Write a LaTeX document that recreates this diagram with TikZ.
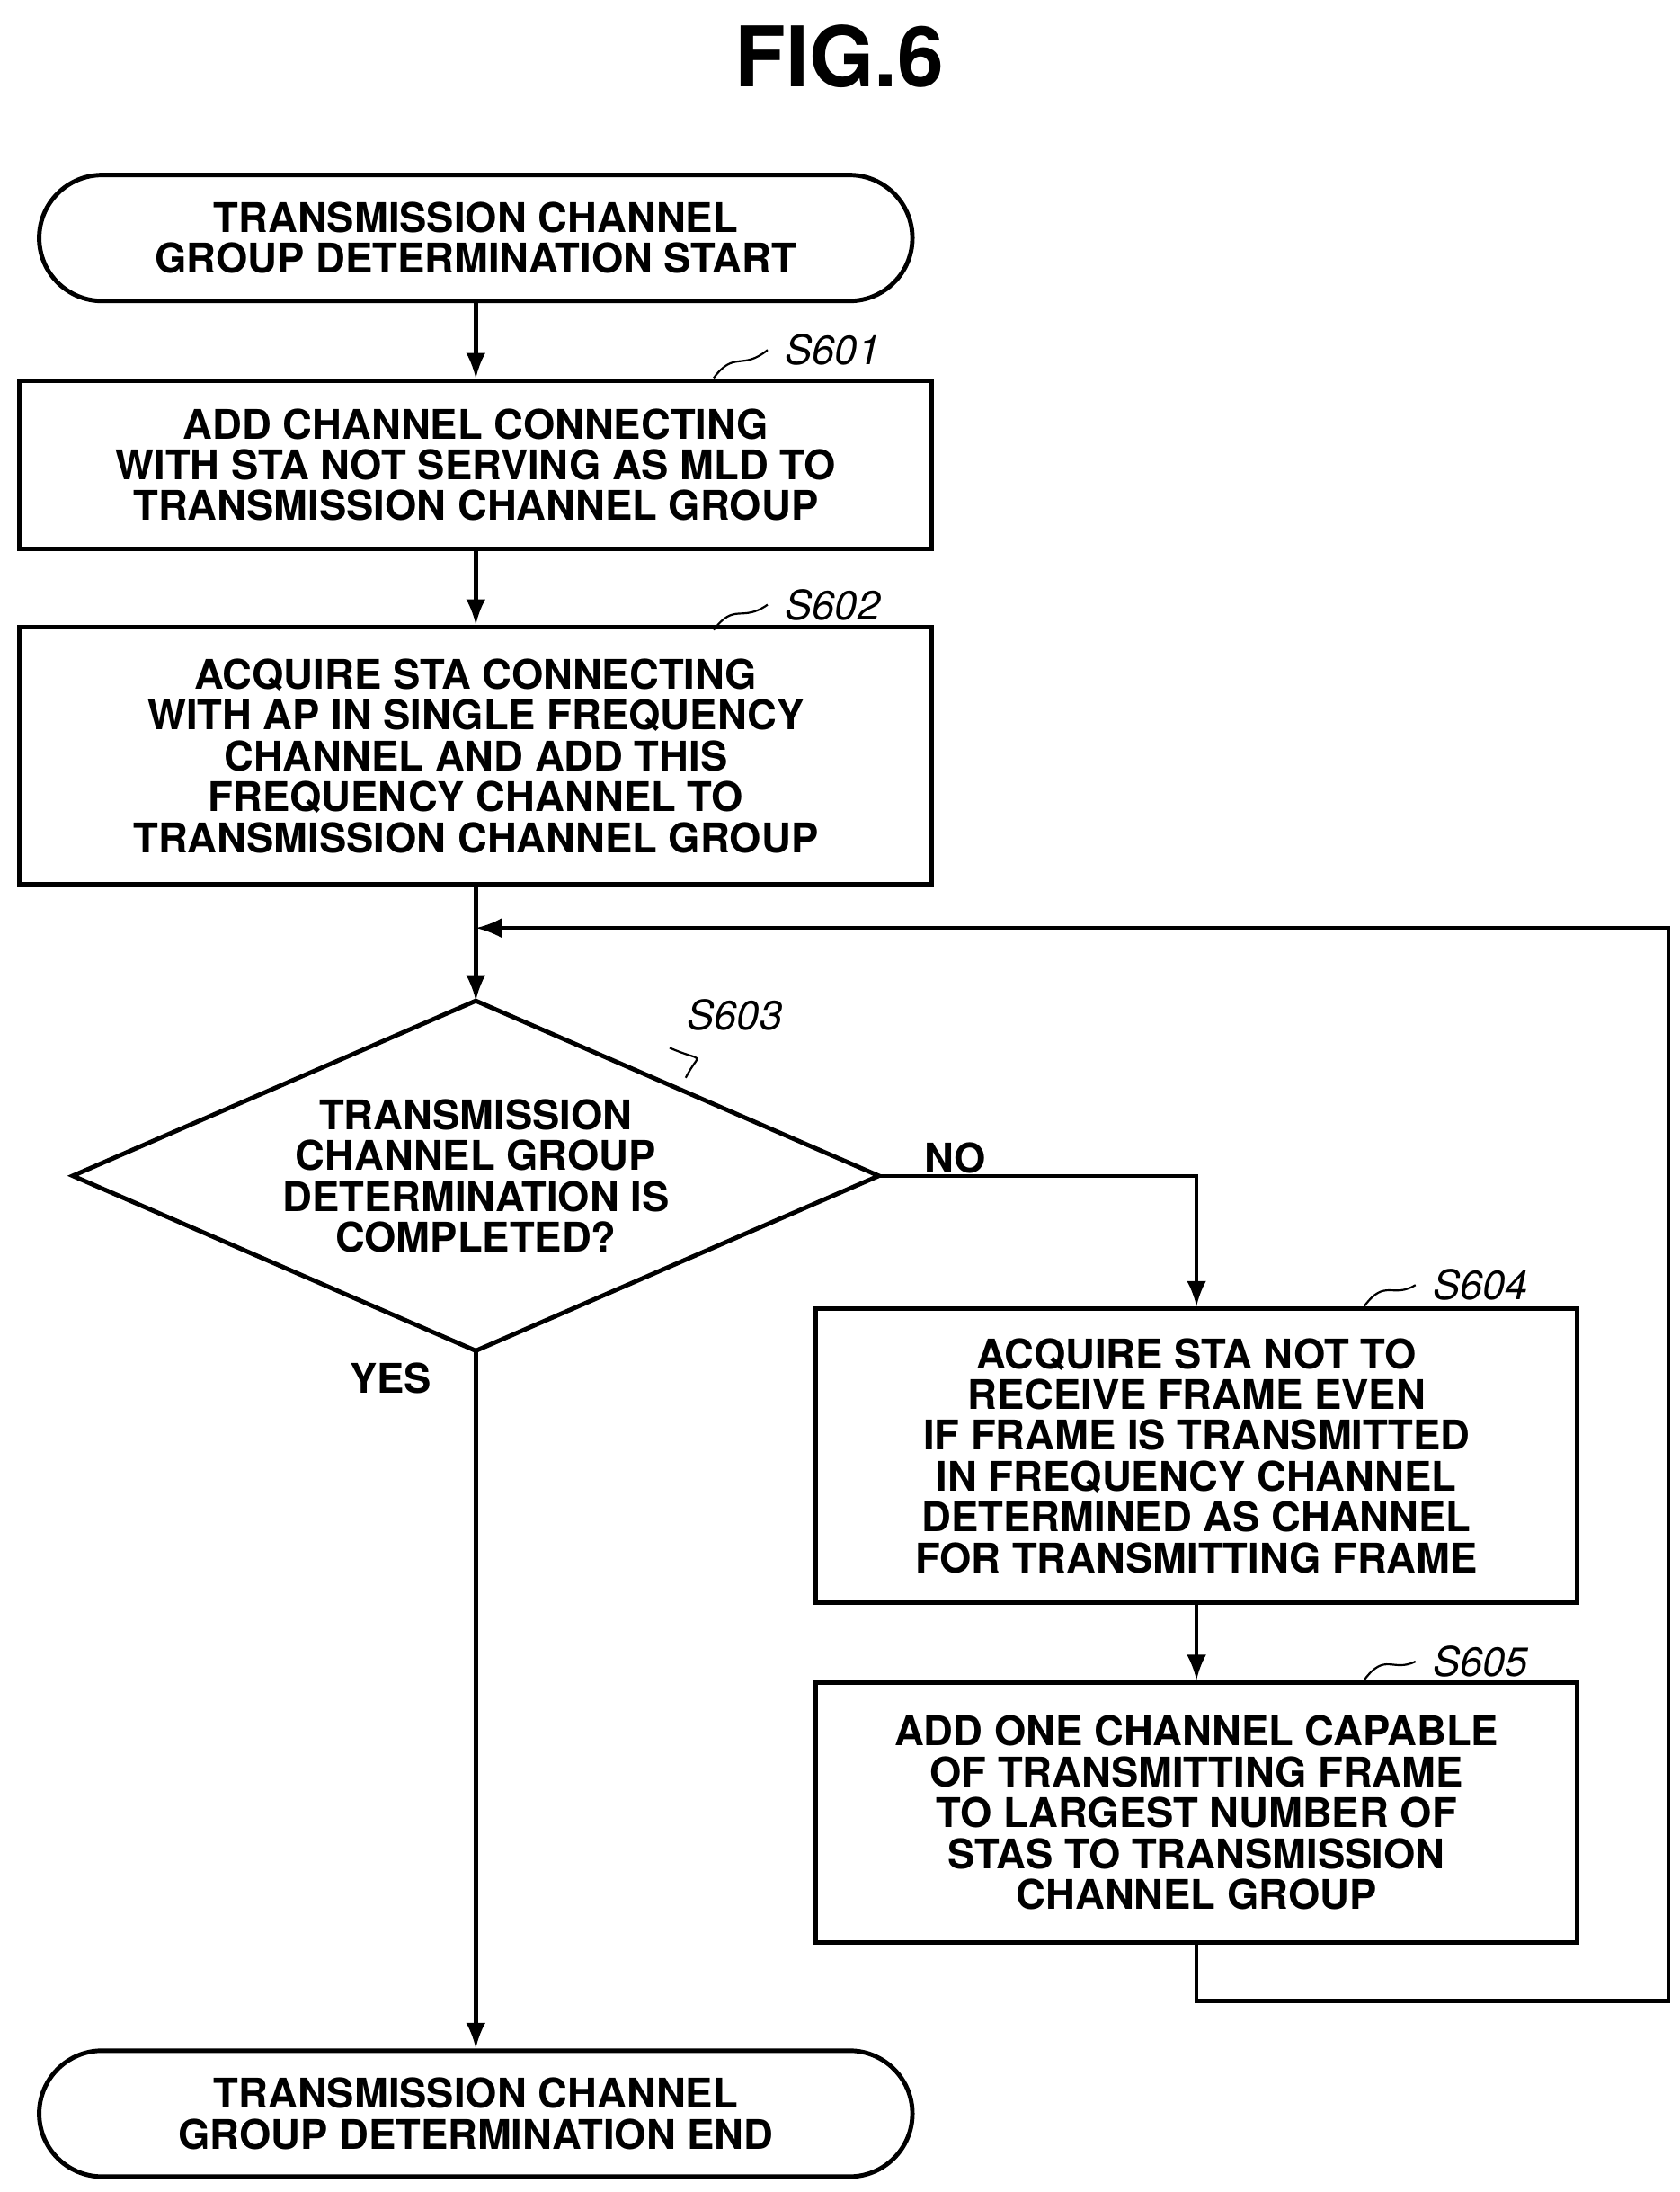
\documentclass[tikz,border=0pt]{standalone}
\usepackage{fontspec}
\setmainfont{TeX Gyre Heros}
\usetikzlibrary{arrows}
\tikzstyle{every picture}+=[remember picture]
\tikzset{
  box/.style={draw,line width=0.9pt,align=center,inner sep=0pt,font=\fontsize{8.3}{8.3}\selectfont\bfseries},
  term/.style={box,rounded corners=0.45cm,minimum width=6.24cm,minimum height=0.9cm},
  steplabel/.style={font=\fontsize{8.3}{8}\selectfont\itshape},
  flow/.style={-latex,line width=0.8pt},
}
\begin{document}
\begin{tikzpicture}
	\useasboundingbox (0,0) rectangle (12,-15.66);
	\node[font=\fontsize{17}{17}\selectfont\bfseries] (title) at (6,-0.4) {FIG.6};
	\node[term] (start) at (3.4,-1.7) {TRANSMISSION CHANNEL\\GROUP DETERMINATION START};
	\node[box,minimum width=6.52cm,minimum height=1.2cm] (s601) at (3.4,-3.32) {ADD CHANNEL CONNECTING\\WITH STA NOT SERVING AS MLD TO\\TRANSMISSION CHANNEL GROUP};
	\node[box,minimum width=6.52cm,minimum height=1.84cm] (s602) at (3.4,-5.4) {ACQUIRE STA CONNECTING\\WITH AP IN SINGLE FREQUENCY\\CHANNEL AND ADD THIS\\FREQUENCY CHANNEL TO\\TRANSMISSION CHANNEL GROUP};
	\coordinate (top) at (3.4,-7.15);
	\coordinate (bot) at (3.4,-9.65);
	\coordinate (left) at (0.52,-8.4);
	\coordinate (right) at (6.28,-8.4);
	\draw[line width=0.9pt] (top) -- (right) -- (bot) -- (left) -- cycle;
	\node[box,draw=none] (s603) at (3.4,-8.4) {TRANSMISSION\\CHANNEL GROUP\\DETERMINATION IS\\COMPLETED?};
	\node[box,minimum width=5.44cm,minimum height=2.1cm] (s604) at (8.55,-10.4) {ACQUIRE STA NOT TO\\RECEIVE FRAME EVEN\\IF FRAME IS TRANSMITTED\\IN FREQUENCY CHANNEL\\DETERMINED AS CHANNEL\\FOR TRANSMITTING FRAME};
	\node[box,minimum width=5.44cm,minimum height=1.86cm] (s605) at (8.55,-12.95) {ADD ONE CHANNEL CAPABLE\\OF TRANSMITTING FRAME\\TO LARGEST NUMBER OF\\STAS TO TRANSMISSION\\CHANNEL GROUP};
	\node[term] (end) at (3.4,-15.1) {TRANSMISSION CHANNEL\\GROUP DETERMINATION END};
	% step labels
	\node[steplabel] (l601) at (5.95,-2.5) {S601};
	\node[steplabel] (l602) at (5.95,-4.32) {S602};
	\node[steplabel] (l603) at (5.25,-7.25) {S603};
	\node[steplabel] (l604) at (10.58,-9.18) {S604};
	\node[steplabel] (l605) at (10.58,-11.87) {S605};
	\draw (5.1,-2.7) .. controls (5.25,-2.5) and (5.3,-2.65) .. (l601.west);
	\draw (5.1,-4.5) .. controls (5.25,-4.3) and (5.3,-4.45) .. (l602.west);
	\draw (4.9,-7.7) .. controls (5.0,-7.5) and (5.05,-7.6) .. (l603.south west);
	\draw (9.75,-9.33) .. controls (9.9,-9.13) and (9.95,-9.28) .. (l604.west);
	\draw (9.75,-12.0) .. controls (9.9,-11.8) and (9.95,-11.95) .. (l605.west);
	% connectors
	\draw[flow] (start) -- (s601);
	\draw[flow] (s601) -- (s602);
	\draw[flow] (s602) -- (top);
	\draw[flow] (right) -| (s604) node[pos=0.12,above,box,draw=none] (no) {NO};
	\draw[flow] (s604) -- (s605);
	\draw[flow] (bot) -- (end) node[pos=0.04,left=0.3cm,box,draw=none] (yes) {YES};
	\coordinate (back) at (3.4,-6.63);
	\draw[flow] (s605.south) -- ++(0,-0.4) -| (11.92,-6.63) -- (back);
\end{tikzpicture}
\end{document}
